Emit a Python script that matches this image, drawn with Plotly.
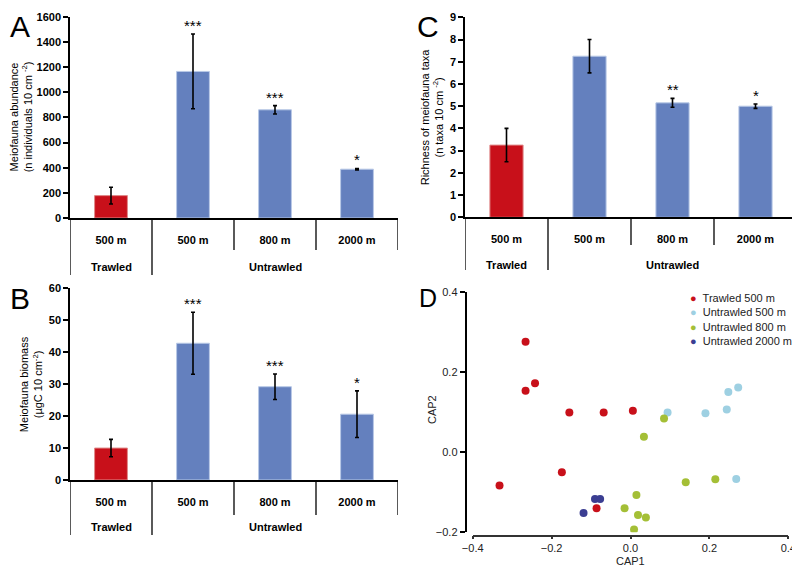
import plotly.graph_objects as go

# ---- data ----
sites = ["500 m", "500 m", "800 m", "2000 m"]
group_names = ["Trawled", "Untrawled"]
group_centers = [0, 2]

abundance = [178, 1165, 860, 388]
abundance_err = [67, 297, 33, 6]
abundance_stars = ["", "***", "***", "*"]

biomass = [10.0, 42.8, 29.2, 20.6]
biomass_err = [2.7, 9.7, 4.0, 7.3]
biomass_stars = ["", "***", "***", "*"]

richness = [3.25, 7.25, 5.15, 5.0]
richness_err = [0.75, 0.75, 0.2, 0.1]
richness_stars = ["", "", "**", "*"]

cap_groups = ["Trawled 500 m", "Untrawled 500 m", "Untrawled 800 m", "Untrawled 2000 m"]
cap1 = [
    [-0.266, -0.242, -0.266, -0.155, -0.068, 0.006, -0.174, -0.332, -0.086],
    [0.094, 0.190, 0.244, 0.248, 0.273, 0.268],
    [0.085, 0.034, 0.140, 0.215, 0.015, -0.015, 0.019, 0.039, 0.009],
    [-0.090, -0.077, -0.119],
]
cap2 = [
    [0.275, 0.172, 0.153, 0.099, 0.099, 0.103, -0.050, -0.083, -0.140],
    [0.099, 0.097, 0.106, 0.150, 0.161, -0.067],
    [0.084, 0.038, -0.075, -0.068, -0.107, -0.140, -0.157, -0.163, -0.193],
    [-0.117, -0.117, -0.152],
]
cap_colors = ["#C8101A", "#9ED0E2", "#A4BF36", "#3B3E92"]

bar_colors = ["#C8101A", "#6480BE", "#6480BE", "#6480BE"]
bar_edges = ["#E08A8A", "#B8C8E6", "#B8C8E6", "#B8C8E6"]

# page body has an 8px margin, so the figure is drawn 8px in from the window
OFF = 8
W, H = 800 - OFF, 568 - OFF
FONT = "Liberation Sans, Arial, sans-serif"


def px(x):
    return (x - OFF) / W


def py(y):
    return 1 - (y - OFF) / H


fig = go.Figure()
shapes = []
annotations = []


def label(text, x, y, size=11, color="black", angle=0, **kw):
    # text placed by pixel centre (explicit anchors, not 'auto')
    d = dict(text=text, xref="paper", yref="paper", x=px(x), y=py(y),
             xanchor="center", yanchor="middle", textangle=angle,
             showarrow=False, font=dict(family=FONT, size=size, color=color))
    d.update(kw)
    annotations.append(d)


def bar_panel(n, values, errs, stars, x0, x1, ytop, ybot, yrange, dtick,
              outer_bot, inner_bot, row2_y, title, title_x):
    sfx = "" if n == 1 else str(n)
    xa, ya = "x" + sfx, "y" + sfx
    fig.add_trace(go.Bar(
        x=list(range(len(values))), y=values, width=0.4,
        marker=dict(color=bar_colors, line=dict(color=bar_edges, width=1)),
        error_y=dict(type="data", array=errs, visible=True,
                     color="black", thickness=1.6, width=2),
        xaxis=xa, yaxis=ya, showlegend=False, hoverinfo="y",
    ))
    fig.update_layout(**{
        "xaxis" + sfx: dict(
            domain=[px(x0), px(x1)], anchor=ya, range=[-0.5, 3.5],
            tickvals=list(range(len(sites))), ticktext=sites, ticks="",
            ticklabelstandoff=11, showline=True, linecolor="black",
            linewidth=1.5, showgrid=False, zeroline=False, automargin=False,
            tickfont=dict(family=FONT, size=11, color="black", weight="bold"),
        ),
        "yaxis" + sfx: dict(
            domain=[py(ybot), py(ytop)], anchor=xa, range=yrange, dtick=dtick,
            ticks="outside", ticklen=5, tickwidth=1.5, tickcolor="black",
            showline=True, linecolor="black", linewidth=1.5,
            showgrid=False, zeroline=False, automargin=False,
            tickfont=dict(family=FONT, size=11, color="black", weight="bold"),
        ),
    })
    # category table dividers under the axis
    for xv, bot in [(-0.5, outer_bot), (0.5, outer_bot), (1.5, inner_bot),
                    (2.5, inner_bot), (3.5, inner_bot)]:
        shapes.append(dict(type="line", xref=xa, yref="paper", x0=xv, x1=xv,
                           y0=py(ybot), y1=py(bot),
                           line=dict(color="black", width=1.3)))
    for name, c in zip(group_names, group_centers):
        annotations.append(dict(text="<b>" + name + "</b>", xref=xa, yref="paper",
                                x=c, y=py(row2_y), xanchor="center", yanchor="middle",
                                showarrow=False,
                                font=dict(family=FONT, size=11, color="black")))
    for i, s in enumerate(stars):
        if s:
            annotations.append(dict(text=s, xref=xa, yref=ya, x=i,
                                    y=values[i] + errs[i], xanchor="center",
                                    yanchor="bottom", yshift=-2, showarrow=False,
                                    font=dict(family=FONT, size=15, color="black")))
    label(title, title_x, (ytop + ybot) / 2, angle=-90)


bar_panel(1, abundance, abundance_err, abundance_stars, 70, 398, 16.7, 218,
          [0, 1600], 200, 275, 250, 267,
          "Meiofauna abundance<br>(n individuals 10 cm <sup>-2</sup>)", 21)
bar_panel(2, biomass, biomass_err, biomass_stars, 70, 398, 288.3, 480,
          [0, 60], 10, 535, 515, 527,
          "Meiofauna biomass<br>(µgC 10 cm<sup>-2</sup>)", 31)
bar_panel(3, richness, richness_err, richness_stars, 465, 797, 17.3, 217.3,
          [0, 9], 1, 270, 245, 265,
          "Richness of meiofauna taxa<br>(n taxa 10 cm <sup>-2</sup>)", 432)

# ---- panel D: CAP ordination ----
for name, xs, ys, c in zip(cap_groups, cap1, cap2, cap_colors):
    fig.add_trace(go.Scatter(
        x=xs, y=ys, mode="markers", name=name, showlegend=False,
        marker=dict(color=c, size=8), xaxis="x4", yaxis="y4",
    ))

fig.update_layout(
    xaxis4=dict(domain=[px(472.7), px(788.3)], anchor="free", position=py(535.5),
                range=[-0.4, 0.4], dtick=0.2, tickformat=".1f",
                ticks="outside", ticklen=3, tickwidth=1.5, tickcolor="#333",
                showline=True, linecolor="#333", linewidth=1.5,
                showgrid=False, zeroline=False, automargin=False,
                tickfont=dict(family=FONT, size=11, color="#222")),
    yaxis4=dict(domain=[py(532.3), py(291.7)], anchor="free", position=px(465.5),
                range=[-0.2, 0.4], dtick=0.2, tickformat=".1f",
                ticks="outside", ticklen=5, tickwidth=1.5, tickcolor="black",
                showline=True, linecolor="black", linewidth=1.5,
                showgrid=False, zeroline=False, automargin=False,
                tickfont=dict(family=FONT, size=11, color="#222")),
)
label("CAP1", 630, 561, color="#222")
label("CAP2", 432, 410, color="#222", angle=-90)

# legend for panel D, set as text with coloured bullets (tight line spacing)
legend_lines = [
    "<span style='color:%s'>●</span>  %s" % (c, name)
    for name, c in zip(cap_groups, cap_colors)
]
annotations.append(dict(text="<br>".join(legend_lines), xref="paper", yref="paper",
                        x=px(688), y=py(290), xanchor="left", yanchor="top",
                        align="left", showarrow=False,
                        font=dict(family=FONT, size=11, color="#222")))

# panel letters (kept inside the figure, which starts 8px into the page)
for letter, x, y, size in [("A", 20, 27, 30), ("B", 20, 298, 30),
                           ("C", 428, 27, 30), ("D", 428, 298, 25)]:
    label(letter, x, y, size=size, borderpad=0)

fig.update_layout(
    width=W, height=H,
    margin=dict(l=0, r=0, t=0, b=0, autoexpand=False),
    plot_bgcolor="white", paper_bgcolor="white",
    shapes=shapes, annotations=annotations,
    showlegend=False,
    bargap=0.6,
)

fig.write_html("out.html")
